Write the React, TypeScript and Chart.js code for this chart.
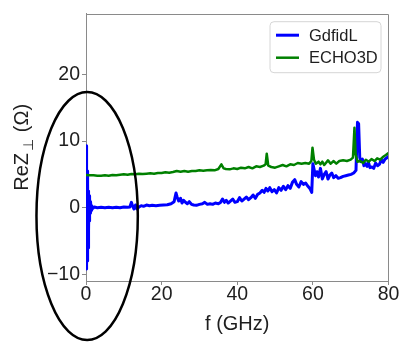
import React, { useEffect, useRef } from 'react';
import { Chart, registerables } from 'chart.js';

Chart.register(...registerables);

const FONT = '"Liberation Sans", Arial, Helvetica, "DejaVu Sans", sans-serif';
const TEXT_COLOR = '#1e1e1e';
const SPINE_COLOR = '#8a8a8a';

const seriesNames = ['GdfidL', 'ECHO3D'];
const seriesColors = ['#0000ff', '#008000'];
const seriesWidths = [3, 2.5];

const xTickValues = [0, 20, 40, 60, 80];
const yTickValues = [-10, 0, 10, 20];
const xMin = 0;
const xMax = 80;
const yMin = -11;
const yMax = 29.1;

const xTitle = 'f (GHz)';
const yTitleMain = 'ReZ';
const yTitleSub = '⊥';
const yTitleUnit = ' (Ω)';

// annotation ellipse, in data units (GHz, Ω)
const ellipseCenterF = 0.3;
const ellipseCenterZ = -1.25;
const ellipseRadiusF = 13.4;
const ellipseRadiusZ = 18.6;

// GdfidL
const gdfidlFreq = [
  0, 0.05, 0.1, 0.15, 0.2, 0.25, 0.3, 0.35, 0.4, 0.45,
  0.5, 0.55, 0.6, 0.65, 0.7, 0.75, 0.8, 0.9, 1.0, 1.1,
  1.2, 1.35, 1.5, 1.8, 2.2, 3, 4, 5, 6, 7,
  8, 9, 10, 11, 11.6, 12.0, 12.3, 12.7, 13.1, 13.5,
  14, 14.6, 15.2, 16, 16.8, 17.5, 18.5, 19.5, 20.5, 21.5,
  22.5, 23.3, 23.8, 24.1, 24.5, 25, 25.4, 25.8, 26.3, 26.8,
  27.3, 27.9, 28.5, 29.2, 30, 30.8, 31.4, 32.1, 32.8, 33.5,
  34.2, 35, 35.6, 36.1, 36.6, 37.1, 37.6, 38.2, 38.8, 39.4,
  40, 40.6, 41.2, 41.8, 42.4, 43, 43.6, 44.2, 44.8, 45.4,
  46, 46.6, 47.1, 47.6, 48.1, 48.6, 49.2, 49.8, 50.4, 51,
  51.6, 52.2, 52.8, 53.4, 54, 54.6, 55.2, 55.7, 56.3, 56.9,
  57.5, 58.1, 58.7, 59.3, 59.7, 60.0, 60.3, 60.7, 61.1, 61.5,
  62.0, 62.5, 63.0, 63.5, 64.0, 64.5, 65.0, 65.5, 66.1, 66.7,
  67.3, 68, 68.7, 69.4, 70.1, 70.8, 71.4, 71.8, 72.1, 72.4,
  72.7, 73.1, 73.5, 73.9, 74.3, 74.7, 75.1, 75.6, 76.1, 76.6,
  77.1, 77.6, 78.1, 78.6, 79.1, 79.6, 80,
];
const gdfidlRe = [
  9.3, -9.2, 9.0, -8.8, 7.5, -8.5, 5.5, -8.0, 4.0, -7.0,
  3.5, -6.0, 2.5, -5.5, 2.0, -3.5, 1.8, -2.0, 1.2, -0.8,
  0.9, -0.4, 0.3, -0.1, 0.1, 0.0, 0.05, 0.0, 0.05, 0.0,
  0.05, 0.0, 0.1, 0.05, 0.1, 0.8, 0.3, -0.2, 0.4, -0.2,
  0.1, 0.3, 0.2, 0.4, 0.3, 0.35, 0.3, 0.35, 0.4, 0.45,
  0.6, 0.9, 2.2, 1.6, 1.0, 1.4, 0.7, 1.1, 0.8, 0.6,
  0.9, 0.5, 0.4, 0.35, 0.5, 0.6, 0.8, 0.5, 0.6, 0.5,
  0.7, 0.6, 0.8, 1.3, 0.8, 1.1, 0.7, 1.0, 1.3, 0.8,
  0.9, 1.5, 1.0, 1.3, 1.6, 1.2, 1.5, 1.9, 1.4, 2.0,
  2.2, 2.6, 2.3, 2.9, 2.5, 3.0, 2.4, 2.7, 2.2, 3.0,
  2.6, 3.2, 2.7, 3.3, 2.9, 3.8, 4.2, 3.5, 3.1, 3.9,
  3.5, 3.7, 3.2, 2.8, 2.3, 6.6, 5.8, 4.8, 5.4, 4.6,
  5.9, 4.3, 5.0, 5.4, 4.3, 4.9, 5.2, 4.5, 4.8, 4.4,
  4.5, 4.7, 4.8, 4.9, 5.0, 5.2, 5.6, 12.8, 12.6, 7.5,
  6.9, 7.3, 6.3, 6.6, 6.2, 6.8, 6.0, 6.1, 5.9, 6.7,
  6.3, 6.5, 7.2, 6.8, 7.3, 7.5, 7.7,
];

// ECHO3D
const echoFreq = [
  0, 1, 2, 3, 4, 5, 6, 7, 8, 9,
  10, 11, 12, 13, 14, 15, 16, 17, 18, 19,
  20, 21, 22, 23, 24, 25, 26, 27, 28, 29,
  30, 31, 32, 33, 34, 35, 35.8, 36.4, 37, 38,
  39, 40, 41, 42, 43, 44, 45, 46, 47, 47.5,
  47.8, 48.2, 49, 50, 51, 52, 53, 54, 55, 56,
  57, 58, 59, 59.6, 59.9, 60.3, 60.8, 61.5, 62, 62.5,
  63, 64, 64.7, 65.5, 66.2, 67, 68, 69, 70, 70.6,
  71.0, 71.3, 71.8, 72.5, 73.3, 74, 74.8, 75.5, 76.3, 77,
  77.8, 78.5, 79.3, 80,
];
const echoRe = [
  4.9, 4.85, 4.85, 4.8, 4.8, 4.85, 4.8, 4.9, 4.85, 4.95,
  5.0, 4.95, 5.05, 5.0, 5.1, 5.05, 5.1, 5.15, 5.1, 5.2,
  5.2, 5.3, 5.25, 5.35, 5.5, 5.4, 5.5, 5.4, 5.5, 5.5,
  5.6, 5.55, 5.6, 5.65, 5.6, 5.8, 6.5, 5.9, 5.8, 5.75,
  5.9, 5.8, 6.0, 5.9, 6.1, 5.9, 6.2, 6.1, 6.3, 6.5,
  8.1, 6.3, 6.1, 6.0, 6.2, 6.4, 6.2, 6.5, 6.4, 6.7,
  6.6, 6.7, 6.6, 7.0, 9.0, 7.2, 6.6, 6.9, 6.5, 6.9,
  6.4, 7.1, 6.6, 7.0, 6.6, 7.0, 7.1, 7.0, 7.2, 7.5,
  12.0, 8.0, 6.9, 7.0, 6.7, 7.2, 6.9, 7.3, 7.0, 7.4,
  7.2, 7.6, 7.9, 8.2,
];

const formatTick = (v: number) => (v < 0 ? '\u2212' + Math.abs(v) : String(v));

const decorPlugin = {
  id: 'decor',
  afterDatasetsDraw(chart: any) {
    const { ctx, scales } = chart;
    const sx = scales.x;
    const sy = scales.y;
    const cx = sx.getPixelForValue(ellipseCenterF);
    const cy = sy.getPixelForValue(ellipseCenterZ);
    const rx = Math.abs(sx.getPixelForValue(ellipseCenterF + ellipseRadiusF) - cx);
    const ry = Math.abs(sy.getPixelForValue(ellipseCenterZ + ellipseRadiusZ) - cy);
    ctx.save();
    ctx.beginPath();
    ctx.ellipse(cx, cy, rx, ry, 0, 0, Math.PI * 2);
    ctx.lineWidth = 2.5;
    ctx.strokeStyle = '#000000';
    ctx.stroke();
    ctx.restore();
  },
  afterDraw(chart: any) {
    const { ctx, chartArea } = chart;
    const { left, right, top, bottom } = chartArea;
    ctx.save();
    // top and right spines
    ctx.strokeStyle = SPINE_COLOR;
    ctx.lineWidth = 1;
    ctx.beginPath();
    const t = Math.round(top) + 0.5;
    const r = Math.round(right) - 0.5;
    ctx.moveTo(left, t);
    ctx.lineTo(r, t);
    ctx.lineTo(r, bottom);
    ctx.stroke();

    // legend
    const boxW = 111;
    const boxH = 51;
    const bx = right - 7.5 - boxW;
    const by = top + 8;
    ctx.beginPath();
    if (ctx.roundRect) ctx.roundRect(bx, by, boxW, boxH, 4);
    else ctx.rect(bx, by, boxW, boxH);
    ctx.fillStyle = 'rgba(255,255,255,0.85)';
    ctx.fill();
    ctx.strokeStyle = '#d6d6d6';
    ctx.lineWidth = 1;
    ctx.stroke();
    ctx.font = `16.5px ${FONT}`;
    ctx.textBaseline = 'middle';
    ctx.textAlign = 'left';
    seriesNames.forEach((name, i) => {
      const ly = by + 13.5 + i * 22.5;
      ctx.beginPath();
      ctx.moveTo(bx + 6, ly);
      ctx.lineTo(bx + 29, ly);
      ctx.strokeStyle = seriesColors[i];
      ctx.lineWidth = seriesWidths[i];
      ctx.stroke();
      ctx.fillStyle = TEXT_COLOR;
      ctx.fillText(name, bx + 39, ly + 1);
    });

    // x title
    ctx.fillStyle = TEXT_COLOR;
    ctx.font = `20px ${FONT}`;
    ctx.textAlign = 'center';
    ctx.textBaseline = 'alphabetic';
    ctx.fillText(xTitle, (left + right) / 2, bottom + 48.5);

    // y title (rotated, with subscript)
    const mainFont = `20px ${FONT}`;
    const subFont = `14px ${FONT}`;
    ctx.font = mainFont;
    const w1 = ctx.measureText(yTitleMain).width;
    const w3 = ctx.measureText(yTitleUnit).width;
    ctx.font = subFont;
    const w2 = ctx.measureText(yTitleSub).width;
    const gap1 = 2;
    const gap2 = 1;
    const total = w1 + gap1 + w2 + gap2 + w3;
    ctx.translate(21, (top + bottom) / 2);
    ctx.rotate(-Math.PI / 2);
    ctx.textAlign = 'left';
    let x = -total / 2;
    ctx.font = mainFont;
    ctx.fillText(yTitleMain, x, 7);
    x += w1 + gap1;
    ctx.font = subFont;
    ctx.fillText(yTitleSub, x, 12);
    x += w2 + gap2;
    ctx.font = mainFont;
    ctx.fillText(yTitleUnit, x, 7);
    ctx.restore();
  },
};

export default function App() {
  const canvasRef = useRef<HTMLCanvasElement | null>(null);

  useEffect(() => {
    const canvas = canvasRef.current;
    if (!canvas) return;
    const tickFont = { family: FONT, size: 19.5 };
    const chart = new Chart(canvas, {
      type: 'line',
      data: {
        datasets: [
          {
            label: seriesNames[0],
            data: gdfidlFreq.map((f, i) => ({ x: f, y: gdfidlRe[i] })),
            borderColor: seriesColors[0],
            backgroundColor: seriesColors[0],
            borderWidth: seriesWidths[0],
            borderJoinStyle: 'round',
            borderCapStyle: 'round',
            pointRadius: 0,
            tension: 0,
            order: 1,
          },
          {
            label: seriesNames[1],
            data: echoFreq.map((f, i) => ({ x: f, y: echoRe[i] })),
            borderColor: seriesColors[1],
            backgroundColor: seriesColors[1],
            borderWidth: seriesWidths[1],
            borderJoinStyle: 'round',
            borderCapStyle: 'round',
            pointRadius: 0,
            tension: 0,
            order: 0,
          },
        ],
      },
      options: {
        responsive: false,
        maintainAspectRatio: false,
        animation: false,
        devicePixelRatio: 1,
        layout: { padding: { top: 8, right: 10.5, left: 0, bottom: 0 } },
        plugins: {
          legend: { display: false },
          tooltip: { enabled: false },
          title: { display: false },
        },
        scales: {
          x: {
            type: 'linear',
            min: xMin,
            max: xMax,
            afterBuildTicks: (scale: any) => {
              scale.ticks = xTickValues.map((v) => ({ value: v }));
            },
            afterFit: (scale: any) => {
              scale.height = 61;
            },
            grid: {
              display: true,
              drawOnChartArea: false,
              drawTicks: true,
              tickLength: 4,
              color: SPINE_COLOR,
            },
            border: { display: true, color: SPINE_COLOR, width: 1 },
            ticks: {
              font: tickFont,
              color: TEXT_COLOR,
              padding: -2.5,
              maxRotation: 0,
              autoSkip: false,
              callback: (v: any) => formatTick(Number(v)),
            },
          },
          y: {
            type: 'linear',
            min: yMin,
            max: yMax,
            afterBuildTicks: (scale: any) => {
              scale.ticks = yTickValues.map((v) => ({ value: v }));
            },
            afterFit: (scale: any) => {
              scale.width = 86;
            },
            grid: {
              display: true,
              drawOnChartArea: false,
              drawTicks: true,
              tickLength: 4,
              color: SPINE_COLOR,
            },
            border: { display: true, color: SPINE_COLOR, width: 1 },
            ticks: {
              font: tickFont,
              color: TEXT_COLOR,
              padding: 2,
              autoSkip: false,
              callback: (v: any) => formatTick(Number(v)),
            },
          },
        },
      },
      plugins: [decorPlugin],
    } as any);
    return () => chart.destroy();
  }, []);

  return (
    <div style={{ position: 'absolute', left: 0, top: 0, width: 399, height: 342, background: '#fff' }}>
      <canvas ref={canvasRef} width={399} height={342} style={{ display: 'block', width: 399, height: 342 }} />
    </div>
  );
}
